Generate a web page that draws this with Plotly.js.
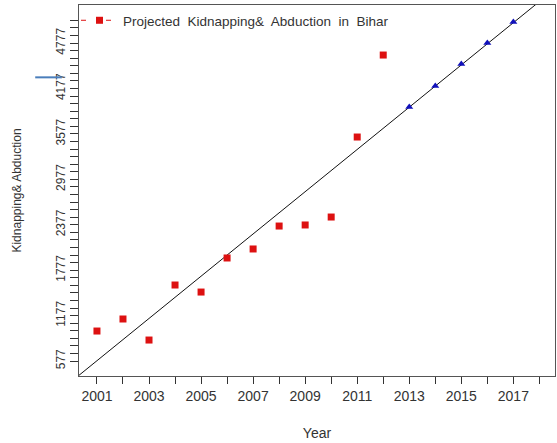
<!DOCTYPE html>
<html>
<head>
<meta charset="utf-8">
<script src="https://cdn.plot.ly/plotly-3.0.1.min.js"></script>
<style>
  html, body { margin: 0; padding: 0; background: #fff; }
  #chart { width: 557px; height: 443px; }
</style>
</head>
<body>
<div id="chart"></div>
<script>
// Observed values (red squares)
const observedYears = [2001, 2002, 2003, 2004, 2005, 2006, 2007, 2008, 2009, 2010, 2011, 2012];
const observedCases = [973, 1132, 854, 1581, 1488, 1938, 2057, 2360, 2374, 2479, 3536, 4619];

// Projected values (blue triangles)
const projectedYears = [2013, 2014, 2015, 2016, 2017];
const projectedCases = [3932, 4210, 4500, 4778, 5055];

// Axis ticks
const yTickLabels = ['577', '1177', '1777', '2377', '2977', '3577', '4177', '4777'];
const xTickValues = [2001, 2002, 2003, 2004, 2005, 2006, 2007, 2008, 2009, 2010, 2011, 2012, 2013, 2014, 2015, 2016, 2017, 2018];
const xTickLabels = ['2001', '', '2003', '', '2005', '', '2007', '', '2009', '', '2011', '', '2013', '', '2015', '', '2017', ''];

const legendName = 'Projected  Kidnapping&  Abduction  in  Bihar';

// Least-squares trend line fitted to the observed values
const n = observedYears.length;
const mx = observedYears.reduce((a, b) => a + b, 0) / n;
const my = observedCases.reduce((a, b) => a + b, 0) / n;
let sxy = 0, sxx = 0;
for (let i = 0; i < n; i++) {
  sxy += (observedYears[i] - mx) * (observedCases[i] - my);
  sxx += (observedYears[i] - mx) * (observedYears[i] - mx);
}
const slope = sxy / sxx;
const intercept = my - slope * mx;
const xRange = [2000.31, 2018.6];
const yRange = [379, 5280];
const trendX = xRange.slice();
const trendY = trendX.map(x => intercept + slope * x);

// y tick marks every 100, labelled every 600
const yTickVals = [], yTickText = [];
for (let v = 577; v <= 5077; v += 100) {
  yTickVals.push(v);
  const lbl = yTickLabels.indexOf(String(v));
  yTickText.push(lbl >= 0 ? yTickLabels[lbl] : '');
}

const red = '#dd1111';
const blue = '#1111bb';
const txt = '#333333';

const traces = [
  {
    x: trendX, y: trendY, mode: 'lines', type: 'scatter',
    line: { color: '#111111', width: 1 }, showlegend: false, hoverinfo: 'skip'
  },
  {
    x: observedYears, y: observedCases, mode: 'markers', type: 'scatter',
    marker: { symbol: 'square', size: 7, color: red },
    showlegend: false
  },
  {
    x: projectedYears, y: projectedCases, mode: 'markers', type: 'scatter',
    marker: { symbol: 'triangle-up', size: 7, color: blue },
    showlegend: false
  },
  {
    x: [null], y: [null], mode: 'lines+markers', type: 'scatter',
    name: legendName,
    line: { color: red, width: 1, dash: '5px,20px' },
    marker: { symbol: 'square', size: 7, color: red },
    showlegend: true
  }
];

const layout = {
  width: 557, height: 443,
  margin: { l: 79, r: 2, t: 5, b: 67 },
  paper_bgcolor: '#ffffff',
  plot_bgcolor: '#ffffff',
  font: { family: 'Liberation Sans, Arial, sans-serif', color: txt, size: 12 },
  showlegend: true,
  legend: {
    x: -0.0063, y: 1.0, xanchor: 'left', yanchor: 'top',
    bgcolor: 'rgba(0,0,0,0)', borderwidth: 0,
    itemwidth: 37,
    font: { size: 13.5, color: txt }
  },
  xaxis: {
    range: xRange,
    showgrid: false, zeroline: false,
    showline: true, mirror: true, linecolor: '#555555', linewidth: 1,
    tickmode: 'array', tickvals: xTickValues, ticktext: xTickLabels,
    ticks: 'outside', ticklen: 7, tickwidth: 1, tickcolor: '#333333',
    tickfont: { size: 14, color: txt },
    title: { text: 'Year', font: { size: 14, color: txt }, standoff: 25 }
  },
  yaxis: {
    range: yRange,
    showgrid: false, zeroline: false,
    showline: true, mirror: true, linecolor: '#555555', linewidth: 1,
    tickmode: 'array', tickvals: yTickVals, ticktext: yTickText,
    ticks: 'outside', ticklen: 8, tickwidth: 1, tickcolor: '#333333',
    tickangle: -90,
    tickfont: { size: 12, color: txt },
    title: { text: 'Kidnapping& Abduction', font: { size: 12, color: txt }, standoff: 30 }
  },
  shapes: [
    { type: 'line', xref: 'paper', yref: 'paper', x0: -0.092, x1: -0.036, y0: 0.805, y1: 0.805,
      line: { color: '#4a7ebb', width: 2 } }
  ]
};

Plotly.newPlot('chart', traces, layout, { displayModeBar: false, staticPlot: true });
</script>
</body>
</html>
